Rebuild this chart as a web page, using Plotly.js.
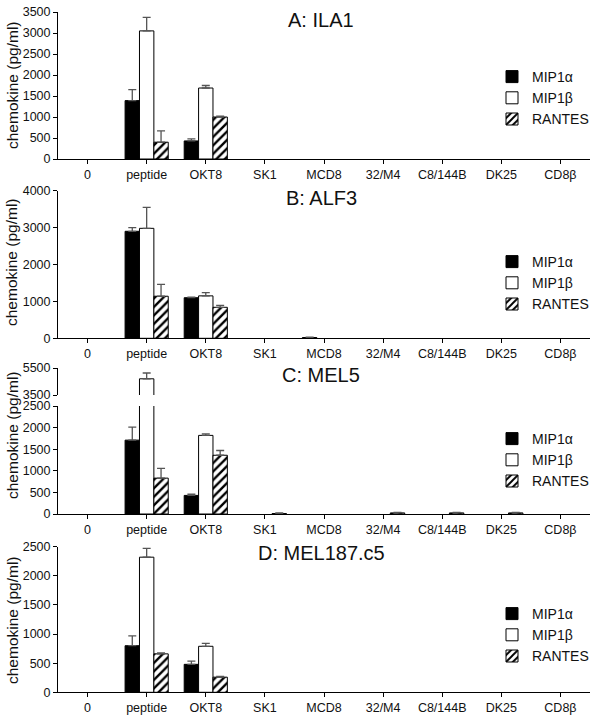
<!DOCTYPE html>
<html>
<head>
<meta charset="utf-8">
<script src="https://cdn.plot.ly/plotly-3.0.1.min.js"></script>
<style>html,body{margin:0;padding:0;background:#fff}</style>
</head>
<body>
<div id="chart" style="width:600px;height:717px"></div>
<script>
const categories = ['0','peptide','OKT8','SK1','MCD8','32/M4','C8/144B','DK25','CD8β'];
const seriesNames = ['MIP1α','MIP1β','RANTES'];

// Panel A: ILA1
const a_mip1a = [0,1390,430,0,0,0,0,0,0];
const a_mip1a_err = [0,260,50,0,0,0,0,0,0];
const a_mip1b = [0,3050,1690,0,0,0,0,0,0];
const a_mip1b_err = [0,320,60,0,0,0,0,0,0];
const a_rantes = [0,400,1000,0,0,0,0,0,0];
const a_rantes_err = [0,270,20,0,0,0,0,0,0];

// Panel B: ALF3
const b_mip1a = [0,2900,1100,0,20,0,0,0,0];
const b_mip1a_err = [0,100,15,0,10,0,0,0,0];
const b_mip1b = [0,2980,1150,0,0,0,0,0,0];
const b_mip1b_err = [0,570,90,0,0,0,0,0,0];
const b_rantes = [0,1140,840,0,0,0,0,0,0];
const b_rantes_err = [0,320,50,0,0,0,0,0,0];

// Panel C: MEL5
const c_mip1a = [0,1710,430,0,0,0,0,0,0];
const c_mip1a_err = [0,300,30,0,0,0,0,0,0];
const c_mip1b = [0,4700,1820,0,0,0,0,0,0];
const c_mip1b_err = [0,430,35,0,0,0,0,0,0];
const c_rantes = [0,830,1360,10,0,25,25,25,0];
const c_rantes_err = [0,225,110,15,0,10,10,10,0];

// Panel D: MEL187.c5
const d_mip1a = [0,800,480,0,0,0,0,0,0];
const d_mip1a_err = [0,170,55,0,0,0,0,0,0];
const d_mip1b = [0,2320,790,0,0,0,0,0,0];
const d_mip1b_err = [0,150,50,0,0,0,0,0,0];
const d_rantes = [0,660,260,0,0,0,0,0,0];
const d_rantes_err = [0,15,15,0,0,0,0,0,0];

const panelTitles = ['A: ILA1','B: ALF3','C: MEL5','D: MEL187.c5'];
const ticksA = [0,500,1000,1500,2000,2500,3000,3500];
const ticksB = [0,1000,2000,3000,4000];
const ticksCLow = [0,500,1000,1500,2000,2500];
const ticksCHigh = [3500,5500];
const ticksD = [0,500,1000,1500,2000,2500];

const FONT = 'Liberation Sans, Arial, sans-serif';
const H = 717, W = 600;
const py = p => 1 - p / H;

const styles = [
  {color:'#000000', line:{color:'#000',width:1}},
  {color:'#ffffff', line:{color:'#000',width:1}},
  {color:'#ffffff', line:{color:'#000',width:1}, pattern:{shape:'/', fgcolor:'#000', bgcolor:'#fff', size:6, solidity:0.4}}
];

function mk(i, y, err, xa, ya, legend, showlegend) {
  // no response (0) drawn as no bar at all, as in the reference
  const yy = y.map(v => v === 0 ? null : v);
  const ee = err.map((e, k) => y[k] === 0 ? null : e);
  return {
    type:'bar', x:categories, y:yy, name:seriesNames[i],
    xaxis:xa, yaxis:ya, legend:legend, showlegend:showlegend,
    marker:styles[i],
    error_y:{type:'data', symmetric:false, array:ee, arrayminus:ee.map(()=>0), color:'#555', thickness:1.3, width:4},
    hoverinfo:'skip'
  };
}

const traces = [
  mk(0,a_mip1a,a_mip1a_err,'x','y','legend',true),
  mk(1,a_mip1b,a_mip1b_err,'x','y','legend',true),
  mk(2,a_rantes,a_rantes_err,'x','y','legend',true),
  mk(0,b_mip1a,b_mip1a_err,'x2','y2','legend2',true),
  mk(1,b_mip1b,b_mip1b_err,'x2','y2','legend2',true),
  mk(2,b_rantes,b_rantes_err,'x2','y2','legend2',true),
  mk(0,c_mip1a,c_mip1a_err,'x3','y3','legend3',true),
  mk(1,c_mip1b,c_mip1b_err,'x3','y3','legend3',true),
  mk(2,c_rantes,c_rantes_err,'x3','y3','legend3',true),
  mk(0,c_mip1a,c_mip1a_err,'x5','y5','legend3',false),
  mk(1,c_mip1b,c_mip1b_err,'x5','y5','legend3',false),
  mk(2,c_rantes,c_rantes_err,'x5','y5','legend3',false),
  mk(0,d_mip1a,d_mip1a_err,'x4','y4','legend4',true),
  mk(1,d_mip1b,d_mip1b_err,'x4','y4','legend4',true),
  mk(2,d_rantes,d_rantes_err,'x4','y4','legend4',true)
];

const xDom = [58/W, 590/W];
function xax(anchor, visible) {
  return {
    domain:xDom, anchor:anchor, type:'category', range:[-0.5, 8.5],
    showline:visible, linecolor:'#000', linewidth:1, ticks:visible?'outside':'', ticklen:4, tickwidth:1, tickcolor:'#000',
    showticklabels:visible, showgrid:false, zeroline:false, fixedrange:true,
    tickfont:{family:FONT, size:12.5, color:'#111'}
  };
}
function yax(anchor, dom, range, tv) {
  return {
    domain:[py(dom[0]), py(dom[1])], anchor:anchor, range:range, tickmode:'array', tickvals:tv,
    showline:true, linecolor:'#000', linewidth:1, ticks:'outside', ticklen:4, tickwidth:1, tickcolor:'#000',
    showgrid:false, zeroline:false, fixedrange:true,
    tickfont:{family:FONT, size:12.5, color:'#111'}
  };
}

const legendBase = (ymid) => ({
  x:492/W, xanchor:'left', y:py(ymid), yanchor:'middle', bgcolor:'rgba(0,0,0,0)',
  font:{family:FONT, size:14, color:'#111'}, tracegroupgap:0, itemclick:false, itemdoubleclick:false
});

const titleY = [20, 198, 375, 553];
const yTitleY = [85, 262, 435, 620];
const annotations = [];
panelTitles.forEach((t,i) => annotations.push({
  text:t, xref:'paper', yref:'paper', x:321/W, y:py(titleY[i]), xanchor:'center', yanchor:'middle',
  showarrow:false, font:{family:FONT, size:20, color:'#111'}
}));
yTitleY.forEach(v => annotations.push({
  text:'chemokine (pg/ml)', xref:'paper', yref:'paper', x:12/W, y:py(v), xanchor:'center', yanchor:'middle',
  textangle:-90, showarrow:false, font:{family:FONT, size:15.5, color:'#111'}
}));

const layout = {
  width:W, height:H, margin:{l:0,r:0,t:0,b:0}, paper_bgcolor:'#fff', plot_bgcolor:'rgba(0,0,0,0)',
  barmode:'group', bargap:0.27, bargroupgap:0, showlegend:true,
  xaxis:xax('y', true), xaxis2:xax('y2', true), xaxis3:xax('y3', true), xaxis4:xax('y4', true), xaxis5:xax('y5', false),
  yaxis:yax('x', [159, 12], [0,3500], ticksA),
  yaxis2:yax('x2', [338.3, 190.7], [0,4000], ticksB),
  yaxis3:yax('x3', [514, 406], [0,2500], ticksCLow),
  yaxis5:yax('x5', [395, 368], [3500,5500], ticksCHigh),
  yaxis4:yax('x4', [692.3, 546.7], [0,2500], ticksD),
  legend:legendBase(98), legend2:legendBase(283), legend3:legendBase(460), legend4:legendBase(635),
  annotations:annotations
};

Plotly.newPlot('chart', traces, layout, {staticPlot:true, displayModeBar:false});
</script>
</body>
</html>
